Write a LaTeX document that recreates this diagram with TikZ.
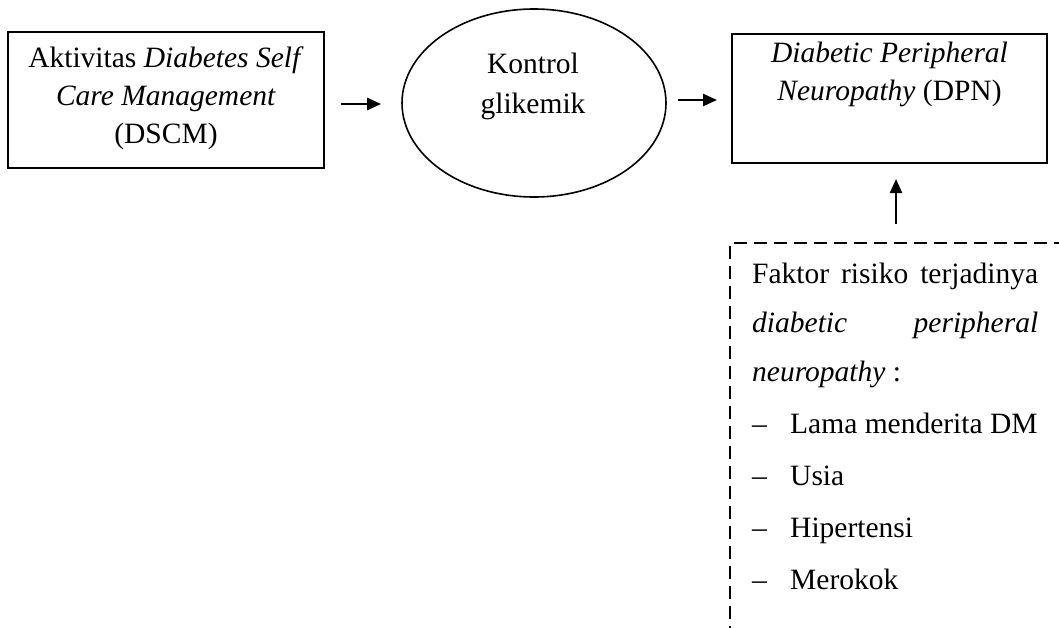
\documentclass[tikz,border=0pt]{standalone}
\usepackage{fontspec}
\setmainfont{Liberation Serif}
\usetikzlibrary{arrows.meta,shapes.geometric}
\tikzset{
  txt/.style={font=\fontsize{29.5}{35}\selectfont, inner sep=0pt, anchor=base},
  boxnode/.style={draw, line width=2pt, rectangle, inner sep=0pt},
  arr/.style={line width=2.4pt, -{Triangle[length=14pt,width=12pt]}},
  riskbox/.style={draw, line width=2pt, dash pattern=on 13pt off 7pt, rectangle, inner sep=0pt},
}
\begin{document}
\begin{tikzpicture}[x=1pt,y=-1pt]
\useasboundingbox (0,0) rectangle (1059,627);
\clip (0,0) rectangle (1059,627);

% DSCM box
\node[boxnode, minimum width=316.5pt, minimum height=136pt] (dscm) at (165.75,100) {};
\node[txt] (dscm1) at (166,67) {Aktivitas \textit{Diabetes Self}};
\node[txt] (dscm2) at (166,105) {\textit{Care Management}};
\node[txt] (dscm3) at (166,143) {(DSCM)};

% Ellipse
\node[draw, ellipse, line width=1.6pt, minimum width=264pt, minimum height=188pt, inner sep=0pt] (gk) at (534,103) {};
\node[txt] (gk1) at (533,73) {Kontrol};
\node[txt] (gk2) at (533,113) {glikemik};

% DPN box
\node[boxnode, minimum width=315pt, minimum height=129pt] (dpn) at (889.5,98.5) {};
\node[txt] (dpn1) at (889.5,62) {\textit{Diabetic Peripheral}};
\node[txt] (dpn2) at (889.5,100) {\textit{Neuropathy} (DPN)};

% Risk factor dashed box
\node[riskbox, minimum width=370pt, minimum height=457pt] (risk) at (915,471.5) {};
\node[txt, anchor=base west] (r1) at (752,283) {\makebox[286pt][s]{Faktor risiko terjadinya}};
\node[txt, anchor=base west] (r2) at (752,332) {\makebox[286pt][s]{\textit{diabetic} \textit{peripheral}}};
\node[txt, anchor=base west] (r3) at (752,381) {\textit{neuropathy} :};
\node[txt, anchor=base west] (r4) at (752,433) {\makebox[38pt][l]{–}Lama menderita DM};
\node[txt, anchor=base west] (r5) at (752,485) {\makebox[38pt][l]{–}Usia};
\node[txt, anchor=base west] (r6) at (752,537) {\makebox[38pt][l]{–}Hipertensi};
\node[txt, anchor=base west] (r7) at (752,589) {\makebox[38pt][l]{–}Merokok};

% Arrows
\coordinate (a1) at ([yshift=-4pt]dscm.east);
\draw[arr, shorten <=16pt, shorten >=20pt] (a1) -- (a1 -| gk.west);
\coordinate (a2) at ([yshift=3pt]gk.east);
\draw[arr, shorten <=11pt, shorten >=14pt] (a2) -- (a2 -| dpn.west);
\coordinate (ux) at (896,0);
\draw[arr, shorten <=18pt, shorten >=15pt] (risk.north -| ux) -- (dpn.south -| ux);
\end{tikzpicture}
\end{document}
